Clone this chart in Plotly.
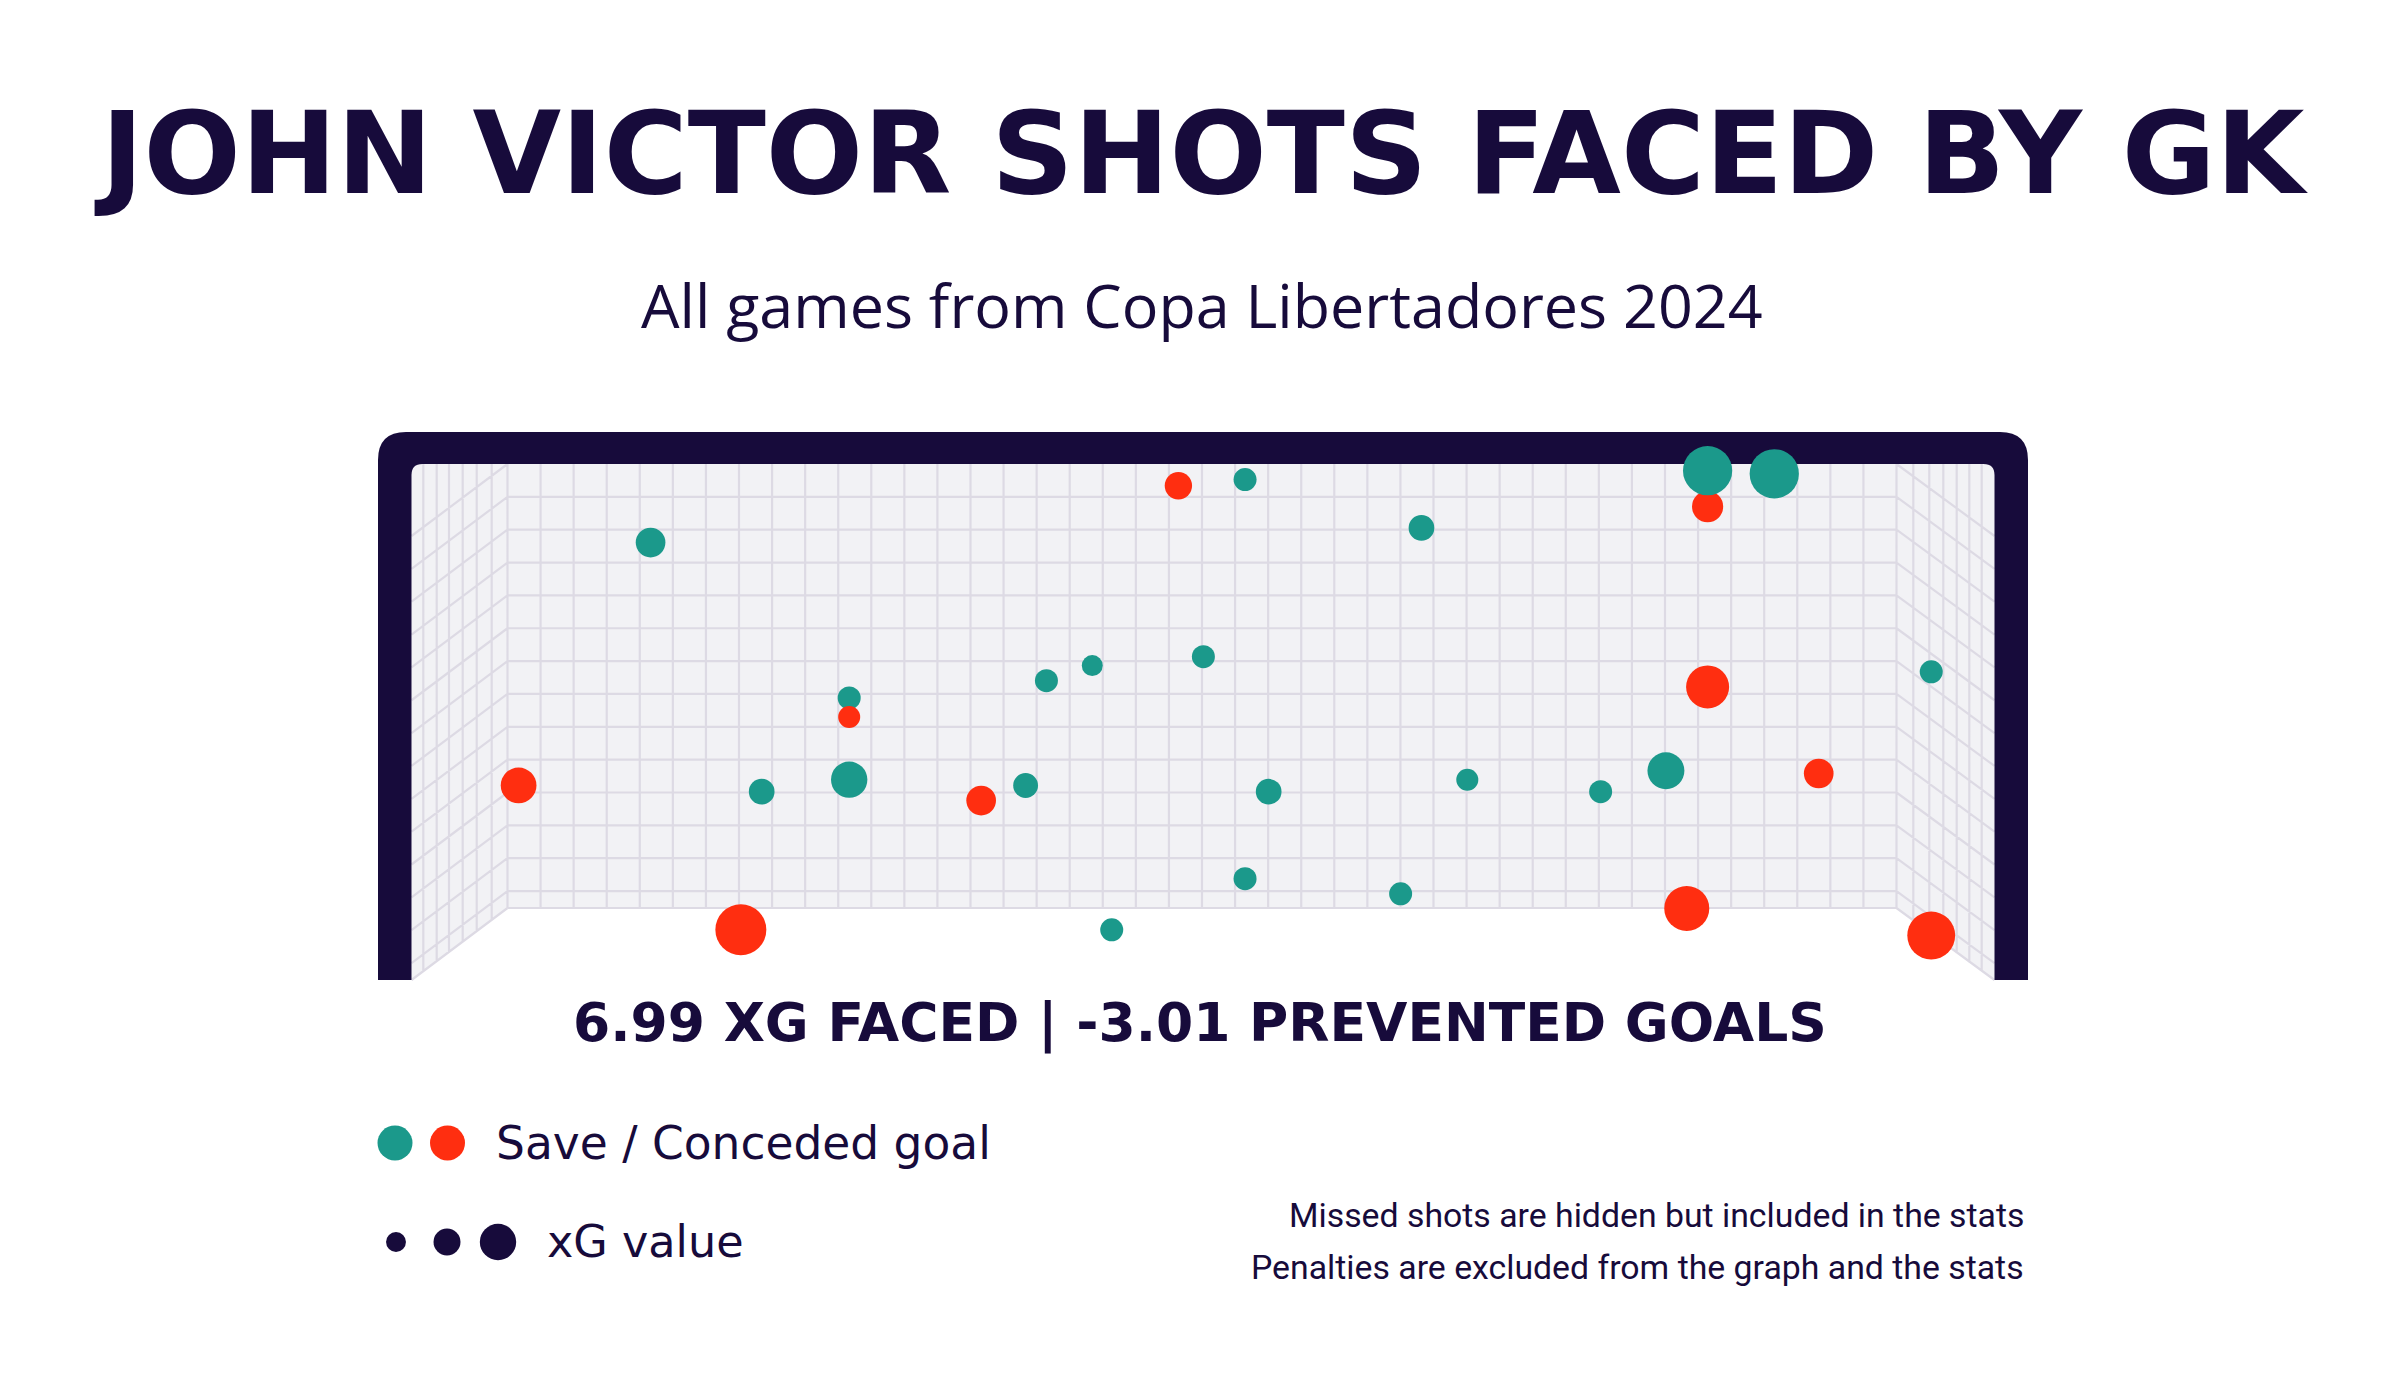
import plotly.graph_objects as go
import math

# ---------------- data (goal-relative units: x 0..1 = back-wall width, y 0..1 = crossbar height) ----------------
shot_x = [0.103, 0.246, 0.246, 0.008, 0.183, 0.246, 0.341, 0.373, 0.388, 0.168,
          0.483, 0.531, 0.658, 0.864, 0.864, 0.912, 0.421, 0.501, 1.025, 0.864,
          0.548, 0.691, 0.787, 0.834, 0.944, 0.531, 0.643, 0.849, 1.025, 0.435]
shot_y = [0.823, 0.473, 0.430, 0.276, 0.262, 0.289, 0.242, 0.276, 0.512, -0.049,
          0.951, 0.965, 0.856, 0.904, 0.985, 0.978, 0.546, 0.566, 0.532, 0.498,
          0.262, 0.289, 0.262, 0.309, 0.303, 0.066, 0.032, -0.001, -0.062, -0.049]
shot_xg = [0.20, 0.12, 0.11, 0.29, 0.15, 0.30, 0.20, 0.14, 0.12, 0.59,
           0.17, 0.12, 0.15, 0.22, 0.55, 0.55, 0.10, 0.12, 0.12, 0.42,
           0.15, 0.11, 0.12, 0.31, 0.20, 0.12, 0.12, 0.46, 0.52, 0.12]
shot_outcome = ["Save", "Save", "Goal", "Goal", "Save", "Save", "Goal", "Save", "Save", "Goal",
                "Goal", "Save", "Save", "Goal", "Save", "Save", "Save", "Save", "Save", "Goal",
                "Save", "Save", "Save", "Save", "Goal", "Save", "Save", "Goal", "Goal", "Save"]
legend_xg = [0.09, 0.165, 0.30]

title_text = "JOHN VICTOR SHOTS FACED BY GK"
subtitle_text = "All games from Copa Libertadores 2024"
stats_text = "6.99 XG FACED | -3.01 PREVENTED GOALS"
legend_outcome_text = "Save / Conceded goal"
legend_xg_text = "xG value"
notes = ["Missed shots are hidden but included in the stats",
         "Penalties are excluded from the graph and the stats"]

# ---------------- styling ----------------
NAVY = "#170b3b"
TEAL = "#1b998b"
RED = "#ff2e10"
NET_BG = "#f2f2f5"
NET_LINE = "#dddae4"
COLORS = {"Save": TEAL, "Goal": RED}

W, H = 2403, 1383
BX0, BX1 = 507.5, 1896.5      # back wall left/right (px)
BY0, BY1 = 464.0, 908.0       # back wall top/bottom (px)
FX0, FX1 = 411.5, 1994.5      # inner post edges
OX0, OX1 = 378.0, 2028.0      # outer post edges
OY0 = 432.0                   # outer top of crossbar
PB = 980.0                    # bottom of posts
DROP = 72.0                   # side-net diagonal drop


def dx(px):
    return (px - BX0) / (BX1 - BX0)


def dy(py):
    return (BY1 - py) / (BY1 - BY0)


def P(px, py):
    return f"{dx(px):.5f},{dy(py):.5f}"


def size_of(xg):
    return math.sqrt(xg * 4405.0)


fig = go.Figure()

shapes = []
# net backgrounds
shapes.append(dict(type="path", layer="below", xref="x", yref="y",
                   path=f"M{P(FX0, BY0 + 10)} Q{P(FX0, BY0)} {P(FX0 + 10, BY0)} L{P(BX0, BY0)} L{P(BX0, BY1)} L{P(FX0, PB)} Z",
                   fillcolor=NET_BG, line=dict(width=0)))
shapes.append(dict(type="path", layer="below", xref="x", yref="y",
                   path=f"M{P(FX1, BY0 + 10)} Q{P(FX1, BY0)} {P(FX1 - 10, BY0)} L{P(BX1, BY0)} L{P(BX1, BY1)} L{P(FX1, PB)} Z",
                   fillcolor=NET_BG, line=dict(width=0)))
shapes.append(dict(type="path", layer="below", xref="x", yref="y",
                   path=f"M{P(BX0, BY0)} L{P(BX1, BY0)} L{P(BX1, BY1)} L{P(BX0, BY1)} Z",
                   fillcolor=NET_BG, line=dict(width=0)))

# grid lines as one multi-segment path
segs = []
ncol = 42
for k in range(0, ncol + 1):
    x = BX0 + k * (BX1 - BX0) / ncol
    segs.append(f"M{P(x, BY0)} L{P(x, BY1)}")
hstep = 32.85
hys = [BY0 + k * hstep for k in range(1, 14)] + [BY1]
for y in hys:
    segs.append(f"M{P(BX0, y)} L{P(BX1, y)}")
slope = DROP / (BX0 - FX0)
for x in [423.3, 436.7, 449.0, 462.7, 476.7, 491.7]:
    segs.append(f"M{P(x, BY0)} L{P(x, BY1 + (BX0 - x) * slope)}")
for x in [1913.3, 1929.3, 1943.3, 1956.7, 1969.3, 1981.7]:
    segs.append(f"M{P(x, BY0)} L{P(x, BY1 + (x - BX1) * slope)}")
for y in [BY0] + hys:
    segs.append(f"M{P(BX0, y)} L{P(FX0, y + DROP)}")
    segs.append(f"M{P(BX1, y)} L{P(FX1, y + DROP)}")
shapes.append(dict(type="path", layer="below", xref="x", yref="y",
                   path=" ".join(segs), line=dict(color=NET_LINE, width=2.2)))

# goal frame
r, ri = 28, 11
frame = (f"M{P(OX0, PB)} L{P(OX0, OY0 + r)} Q{P(OX0, OY0)} {P(OX0 + r, OY0)} "
         f"L{P(OX1 - r, OY0)} Q{P(OX1, OY0)} {P(OX1, OY0 + r)} L{P(OX1, PB)} "
         f"L{P(FX1, PB)} L{P(FX1, BY0 + ri)} Q{P(FX1, BY0)} {P(FX1 - ri, BY0)} "
         f"L{P(FX0 + ri, BY0)} Q{P(FX0, BY0)} {P(FX0, BY0 + ri)} L{P(FX0, PB)} Z")
shapes.append(dict(type="path", layer="below", xref="x", yref="y",
                   path=frame, fillcolor=NAVY, line=dict(width=0)))

# shots (draw order: goals under the big saves where they overlap)
order = list(range(len(shot_x)))
order.remove(13)
order.insert(order.index(14), 13)  # conceded goal (idx 13) drawn before big saves 14, 15
fig.add_trace(go.Scatter(
    x=[shot_x[i] for i in order],
    y=[shot_y[i] for i in order],
    mode="markers",
    marker=dict(size=[size_of(shot_xg[i]) for i in order],
                color=[COLORS[shot_outcome[i]] for i in order],
                line=dict(width=0), opacity=1),
    hovertext=[f"{shot_outcome[i]} – xG {shot_xg[i]:.2f}" for i in order],
    hoverinfo="text", showlegend=False))

# legend markers
fig.add_trace(go.Scatter(
    x=[dx(395), dx(447.5)], y=[dy(1143), dy(1143)], mode="markers",
    marker=dict(size=35, color=[TEAL, RED], line=dict(width=0), opacity=1),
    hoverinfo="skip", showlegend=False))
fig.add_trace(go.Scatter(
    x=[dx(396), dx(447), dx(498)], y=[dy(1242)] * 3, mode="markers",
    marker=dict(size=[size_of(v) for v in legend_xg], color=NAVY, line=dict(width=0), opacity=1),
    hoverinfo="skip", showlegend=False))


def py2paper(py):
    return 1 - py / H


annotations = [
    dict(text=title_text, x=1201 / W, y=py2paper(153), xref="paper", yref="paper",
         xanchor="center", yanchor="middle", showarrow=False,
         font=dict(family="DejaVu Sans", size=114.5, color=NAVY, weight="bold")),
    dict(text=subtitle_text, x=1202 / W, y=py2paper(305), xref="paper", yref="paper",
         xanchor="center", yanchor="middle", showarrow=False,
         font=dict(family="Open Sans", size=61, color=NAVY)),
    dict(text=stats_text, x=1200 / W, y=py2paper(1022), xref="paper", yref="paper",
         xanchor="center", yanchor="middle", showarrow=False,
         font=dict(family="DejaVu Sans", size=53.5, color=NAVY, weight="bold")),
    dict(text=legend_outcome_text, x=494 / W, y=py2paper(1143), xref="paper", yref="paper",
         xanchor="left", yanchor="middle", showarrow=False,
         font=dict(family="DejaVu Sans", size=45.5, color=NAVY)),
    dict(text=legend_xg_text, x=545 / W, y=py2paper(1241), xref="paper", yref="paper",
         xanchor="left", yanchor="middle", showarrow=False,
         font=dict(family="DejaVu Sans", size=44.5, color=NAVY)),
    dict(text=notes[0], x=2026 / W, y=py2paper(1215), xref="paper", yref="paper",
         xanchor="right", yanchor="middle", showarrow=False,
         font=dict(family="Roboto", size=33.8, color=NAVY)),
    dict(text=notes[1], x=2026 / W, y=py2paper(1267), xref="paper", yref="paper",
         xanchor="right", yanchor="middle", showarrow=False,
         font=dict(family="Roboto", size=33.8, color=NAVY)),
]

fig.update_layout(
    width=W, height=H, margin=dict(l=0, r=0, t=0, b=0),
    paper_bgcolor="white", plot_bgcolor="white",
    shapes=shapes, annotations=annotations, showlegend=False,
    xaxis=dict(range=[dx(0), dx(W)], visible=False, fixedrange=True),
    yaxis=dict(range=[dy(H), dy(0)], visible=False, fixedrange=True),
)

fig.write_html("out.html", config={"displayModeBar": False},
               post_script="document.body.style.margin='0';document.body.style.overflow='hidden';")
